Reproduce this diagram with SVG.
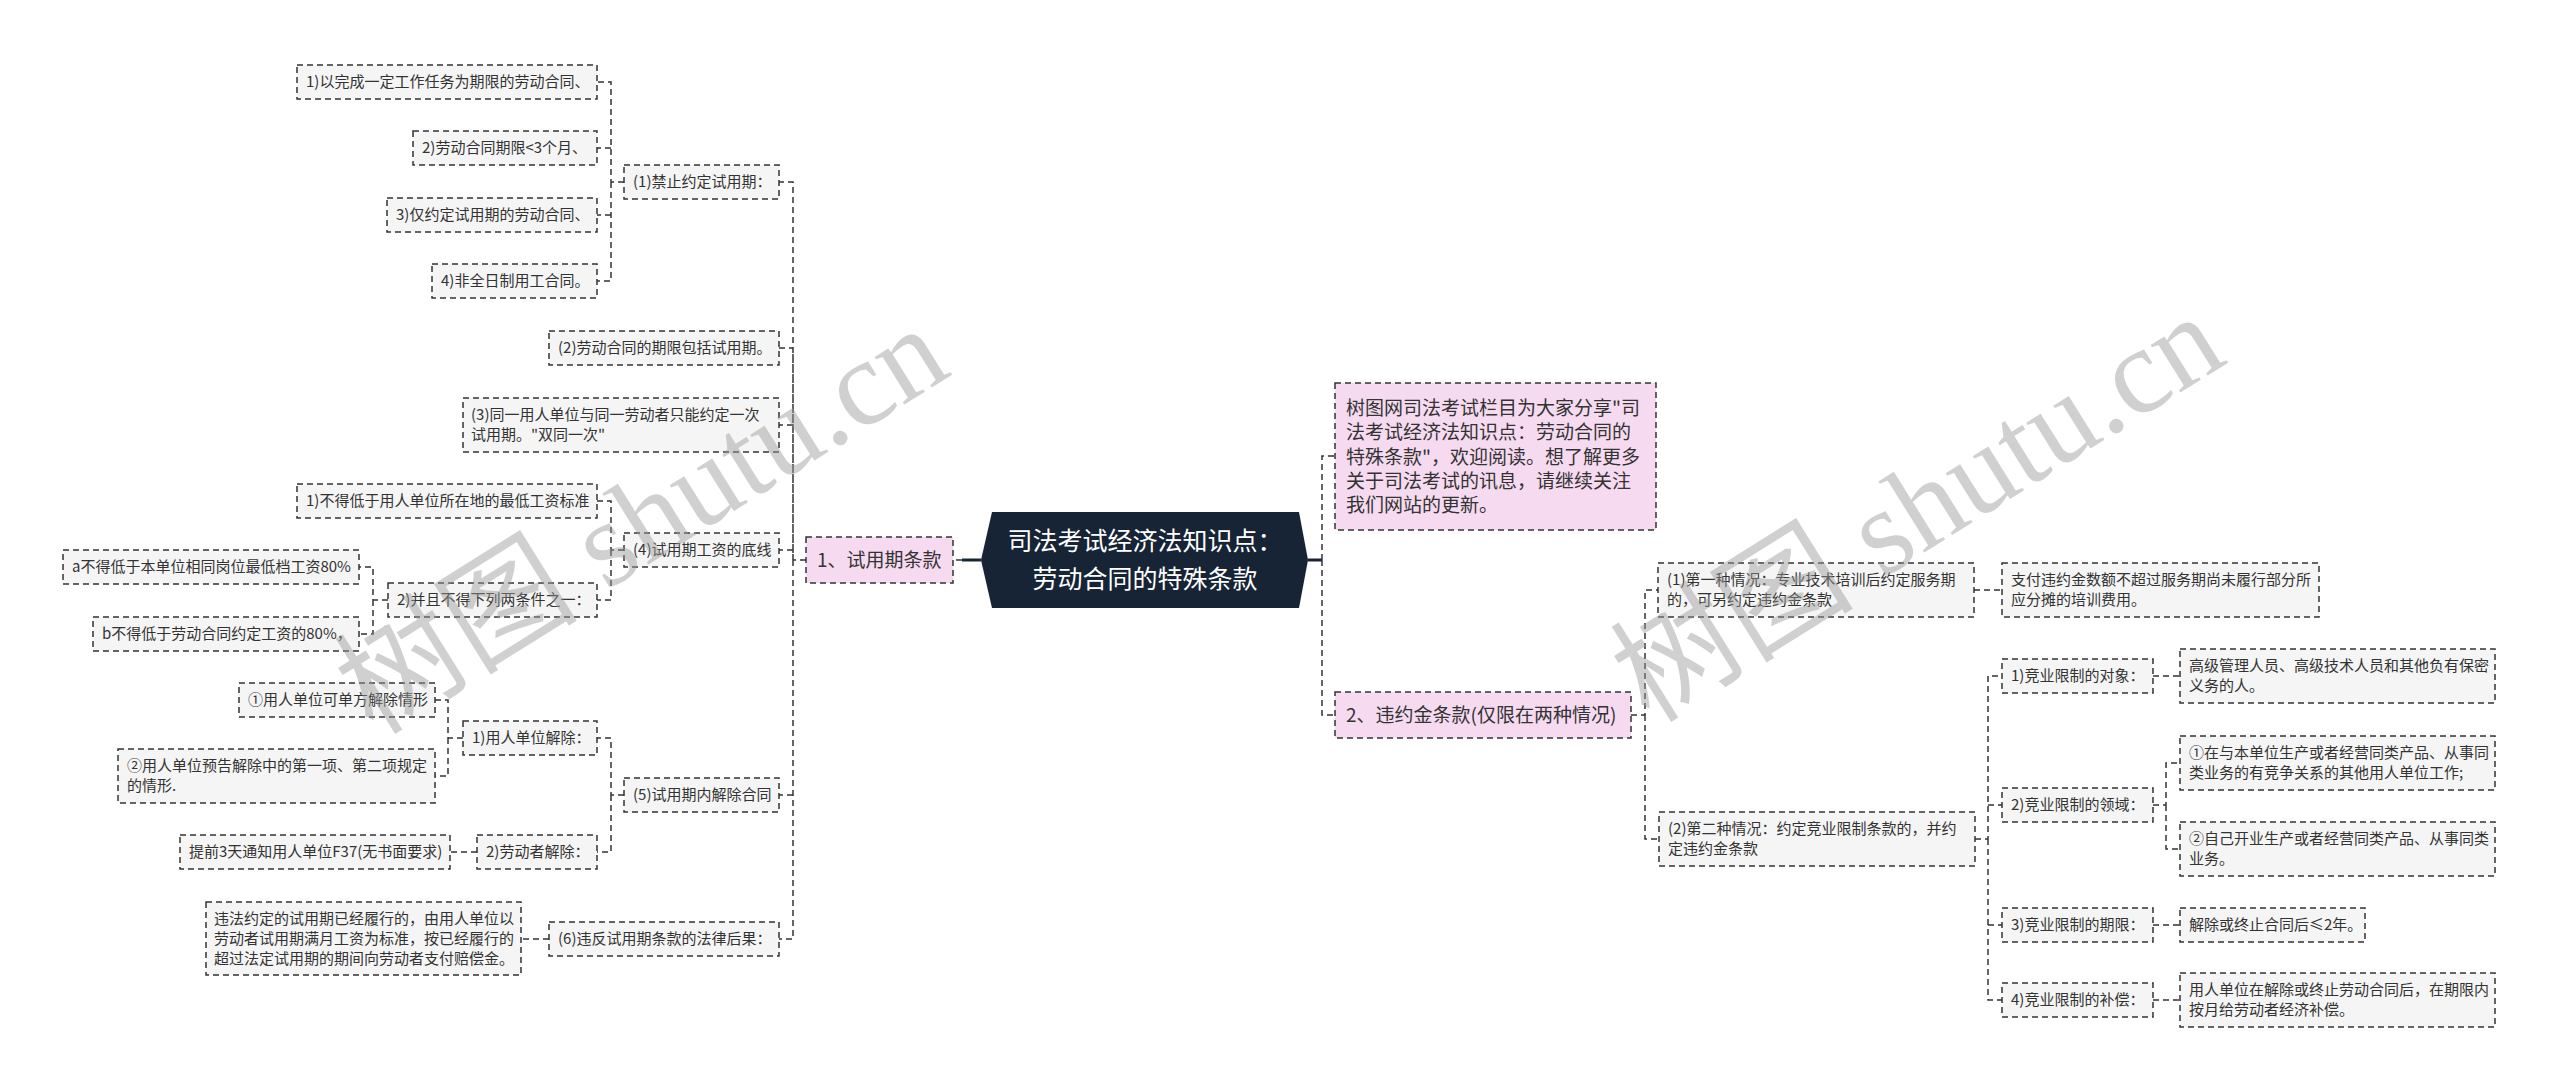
<svg xmlns="http://www.w3.org/2000/svg" width="2560" height="1092" viewBox="0 0 2560 1092">
<style>
.box{fill:#f5f5f5;stroke:#333;stroke-width:1.5;stroke-dasharray:6 4}
.pink{fill:#f6daf0;stroke:#333;stroke-width:1.5;stroke-dasharray:6 4}
.t{font-family:"Noto Sans CJK SC","Microsoft YaHei",sans-serif;font-size:15px;fill:#333}
.tl{font-family:"Noto Sans CJK SC","Microsoft YaHei",sans-serif;font-size:19px;fill:#333}
.tc{font-family:"Noto Sans CJK SC","Microsoft YaHei",sans-serif;font-size:25px;fill:#fff}
.c{fill:none;stroke:#333;stroke-width:1.5;stroke-dasharray:6 4}
.s{fill:none;stroke:#1a2636;stroke-width:3}
.wm{font-family:"Liberation Serif","Noto Sans CJK SC",serif;font-size:122px;fill:#999;opacity:0.45}
</style>
<rect width="2560" height="1092" fill="#fff"/>
<g id="connectors">
<path class="s" d="M981,560 H962"/>
<path class="c" d="M962,560 H953"/>
<path class="s" d="M1308,560 H1322"/>
<path class="c" d="M806,560 H793 V182 H779 M793,560 V348 H779 M793,425 H779 M793,550 H779 M793,560 V939 H779 M793,795 H779"/>
<path class="c" d="M624,182 H611 V82 H597 M611,148 H597 M611,182 V281 H597 M611,215 H597"/>
<path class="c" d="M624,550 H611 V501 H597 M611,550 V600 H597"/>
<path class="c" d="M388,600 H373 V567 H359 M373,600 V634 H359"/>
<path class="c" d="M624,795 H611 V738 H597 M611,795 V852 H597"/>
<path class="c" d="M463,738 H448 V700 H435 M448,738 V776 H435"/>
<path class="c" d="M477,852 H450"/>
<path class="c" d="M549,939 H521"/>
<path class="c" d="M1322,560 V456 H1335 M1322,560 V715 H1335"/>
<path class="c" d="M1631,715 H1645 V590 H1658 M1645,715 V839 H1659"/>
<path class="c" d="M1974,590 H2002"/>
<path class="c" d="M1975,839 H1988 V676 H2002 M1988,805 H2002 M1988,839 V1000 H2002 M1988,925 H2002"/>
<path class="c" d="M2153,676 H2180"/>
<path class="c" d="M2153,805 H2166 V763 H2180 M2166,805 V849 H2180"/>
<path class="c" d="M2153,925 H2180"/>
<path class="c" d="M2153,1000 H2180"/>
</g>
<g id="center">
<polygon points="992,512 1299,512 1308,560 1299,608 992,608 981,560" fill="#172435"/>
<text class="tc" x="1145" y="550" text-anchor="middle">司法考试经济法知识点：</text>
<text class="tc" x="1145" y="588" text-anchor="middle">劳动合同的特殊条款</text>
</g>
<g id="L1"><rect class="pink" x="806" y="537" width="147" height="46"/><text class="tl" x="817" y="567">1、试用期条款</text></g>
<g id="P1"><rect class="box" x="624" y="165" width="155" height="34"/><text class="t" x="633" y="187">(1)禁止约定试用期：</text></g>
<g id="N1a"><rect class="box" x="297" y="65" width="300" height="34"/><text class="t" x="306" y="87">1)以完成一定工作任务为期限的劳动合同、</text></g>
<g id="N1b"><rect class="box" x="413" y="131" width="184" height="34"/><text class="t" x="422" y="153">2)劳动合同期限&lt;3个月、</text></g>
<g id="N1c"><rect class="box" x="387" y="198" width="210" height="34"/><text class="t" x="396" y="220">3)仅约定试用期的劳动合同、</text></g>
<g id="N1d"><rect class="box" x="432" y="264" width="165" height="34"/><text class="t" x="441" y="286">4)非全日制用工合同。</text></g>
<g id="P2"><rect class="box" x="549" y="331" width="230" height="34"/><text class="t" x="558" y="353">(2)劳动合同的期限包括试用期。</text></g>
<g id="P3"><rect class="box" x="463" y="398" width="316" height="54"/><text class="t" x="471" y="420">(3)同一用人单位与同一劳动者只能约定一次</text><text class="t" x="471" y="440">试用期。"双同一次"</text></g>
<g id="P4"><rect class="box" x="624" y="533" width="155" height="34"/><text class="t" x="633" y="555">(4)试用期工资的底线</text></g>
<g id="Q1"><rect class="box" x="297" y="484" width="300" height="34"/><text class="t" x="306" y="506">1)不得低于用人单位所在地的最低工资标准</text></g>
<g id="Q2"><rect class="box" x="388" y="583" width="209" height="34"/><text class="t" x="397" y="605">2)并且不得下列两条件之一：</text></g>
<g id="Qa"><rect class="box" x="63" y="550" width="296" height="34"/><text class="t" x="72" y="572">a不得低于本单位相同岗位最低档工资80%</text></g>
<g id="Qb"><rect class="box" x="93" y="617" width="266" height="34"/><text class="t" x="102" y="639">b不得低于劳动合同约定工资的80%，</text></g>
<g id="P5"><rect class="box" x="624" y="778" width="155" height="34"/><text class="t" x="633" y="800">(5)试用期内解除合同</text></g>
<g id="R1"><rect class="box" x="463" y="721" width="134" height="34"/><text class="t" x="472" y="743">1)用人单位解除：</text></g>
<g id="R1a"><rect class="box" x="239" y="683" width="196" height="34"/><text class="t" x="248" y="705">①用人单位可单方解除情形</text></g>
<g id="R1b"><rect class="box" x="118" y="749" width="317" height="54"/><text class="t" x="127" y="771">②用人单位预告解除中的第一项、第二项规定</text><text class="t" x="127" y="791">的情形.</text></g>
<g id="R2"><rect class="box" x="477" y="835" width="120" height="34"/><text class="t" x="486" y="857">2)劳动者解除：</text></g>
<g id="R2a"><rect class="box" x="180" y="835" width="270" height="34"/><text class="t" x="189" y="857">提前3天通知用人单位F37(无书面要求)</text></g>
<g id="P6"><rect class="box" x="549" y="922" width="230" height="34"/><text class="t" x="558" y="944">(6)违反试用期条款的法律后果：</text></g>
<g id="S1"><rect class="box" x="206" y="902" width="315" height="73"/><text class="t" x="214" y="924">违法约定的试用期已经履行的，由用人单位以</text><text class="t" x="214" y="944">劳动者试用期满月工资为标准，按已经履行的</text><text class="t" x="214" y="964">超过法定试用期的期间向劳动者支付赔偿金。</text></g>
<g id="intro"><rect class="pink" x="1335" y="383" width="321" height="147"/>
<text class="tl" x="1346" y="415">树图网司法考试栏目为大家分享"司</text>
<text class="tl" x="1346" y="439">法考试经济法知识点：劳动合同的</text>
<text class="tl" x="1346" y="464">特殊条款"，欢迎阅读。想了解更多</text>
<text class="tl" x="1346" y="488">关于司法考试的讯息，请继续关注</text>
<text class="tl" x="1346" y="512">我们网站的更新。</text></g>
<g id="L2"><rect class="pink" x="1335" y="692" width="296" height="46"/><text class="tl" x="1346" y="722">2、违约金条款(仅限在两种情况)</text></g>
<g id="M1"><rect class="box" x="1658" y="563" width="316" height="54"/><text class="t" x="1667" y="585">(1)第一种情况：专业技术培训后约定服务期</text><text class="t" x="1667" y="605">的，可另约定违约金条款</text></g>
<g id="M1a"><rect class="box" x="2002" y="563" width="317" height="54"/><text class="t" x="2011" y="585">支付违约金数额不超过服务期尚未履行部分所</text><text class="t" x="2011" y="605">应分摊的培训费用。</text></g>
<g id="M2"><rect class="box" x="1659" y="812" width="316" height="54"/><text class="t" x="1668" y="834">(2)第二种情况：约定竞业限制条款的，并约</text><text class="t" x="1668" y="854">定违约金条款</text></g>
<g id="K1"><rect class="box" x="2002" y="659" width="151" height="34"/><text class="t" x="2011" y="681">1)竞业限制的对象：</text></g>
<g id="K1a"><rect class="box" x="2180" y="649" width="315" height="54"/><text class="t" x="2189" y="671">高级管理人员、高级技术人员和其他负有保密</text><text class="t" x="2189" y="691">义务的人。</text></g>
<g id="K2"><rect class="box" x="2002" y="788" width="151" height="34"/><text class="t" x="2011" y="810">2)竞业限制的领域：</text></g>
<g id="K2a"><rect class="box" x="2180" y="736" width="315" height="54"/><text class="t" x="2189" y="758">①在与本单位生产或者经营同类产品、从事同</text><text class="t" x="2189" y="778">类业务的有竞争关系的其他用人单位工作;</text></g>
<g id="K2b"><rect class="box" x="2180" y="822" width="315" height="54"/><text class="t" x="2189" y="844">②自己开业生产或者经营同类产品、从事同类</text><text class="t" x="2189" y="864">业务。</text></g>
<g id="K3"><rect class="box" x="2002" y="908" width="151" height="34"/><text class="t" x="2011" y="930">3)竞业限制的期限：</text></g>
<g id="K3a"><rect class="box" x="2180" y="908" width="185" height="34"/><text class="t" x="2189" y="930">解除或终止合同后≤2年。</text></g>
<g id="K4"><rect class="box" x="2002" y="983" width="151" height="34"/><text class="t" x="2011" y="1005">4)竞业限制的补偿：</text></g>
<g id="K4a"><rect class="box" x="2180" y="973" width="315" height="54"/><text class="t" x="2189" y="995">用人单位在解除或终止劳动合同后，在期限内</text><text class="t" x="2189" y="1015">按月给劳动者经济补偿。</text></g>
<g id="watermarks">
<text class="wm" x="646" y="560" text-anchor="middle" transform="rotate(-32 646 527)">树图 shutu.cn</text>
<text class="wm" x="1922" y="548" text-anchor="middle" transform="rotate(-32 1922 515)">树图 shutu.cn</text>
</g>
</svg>
